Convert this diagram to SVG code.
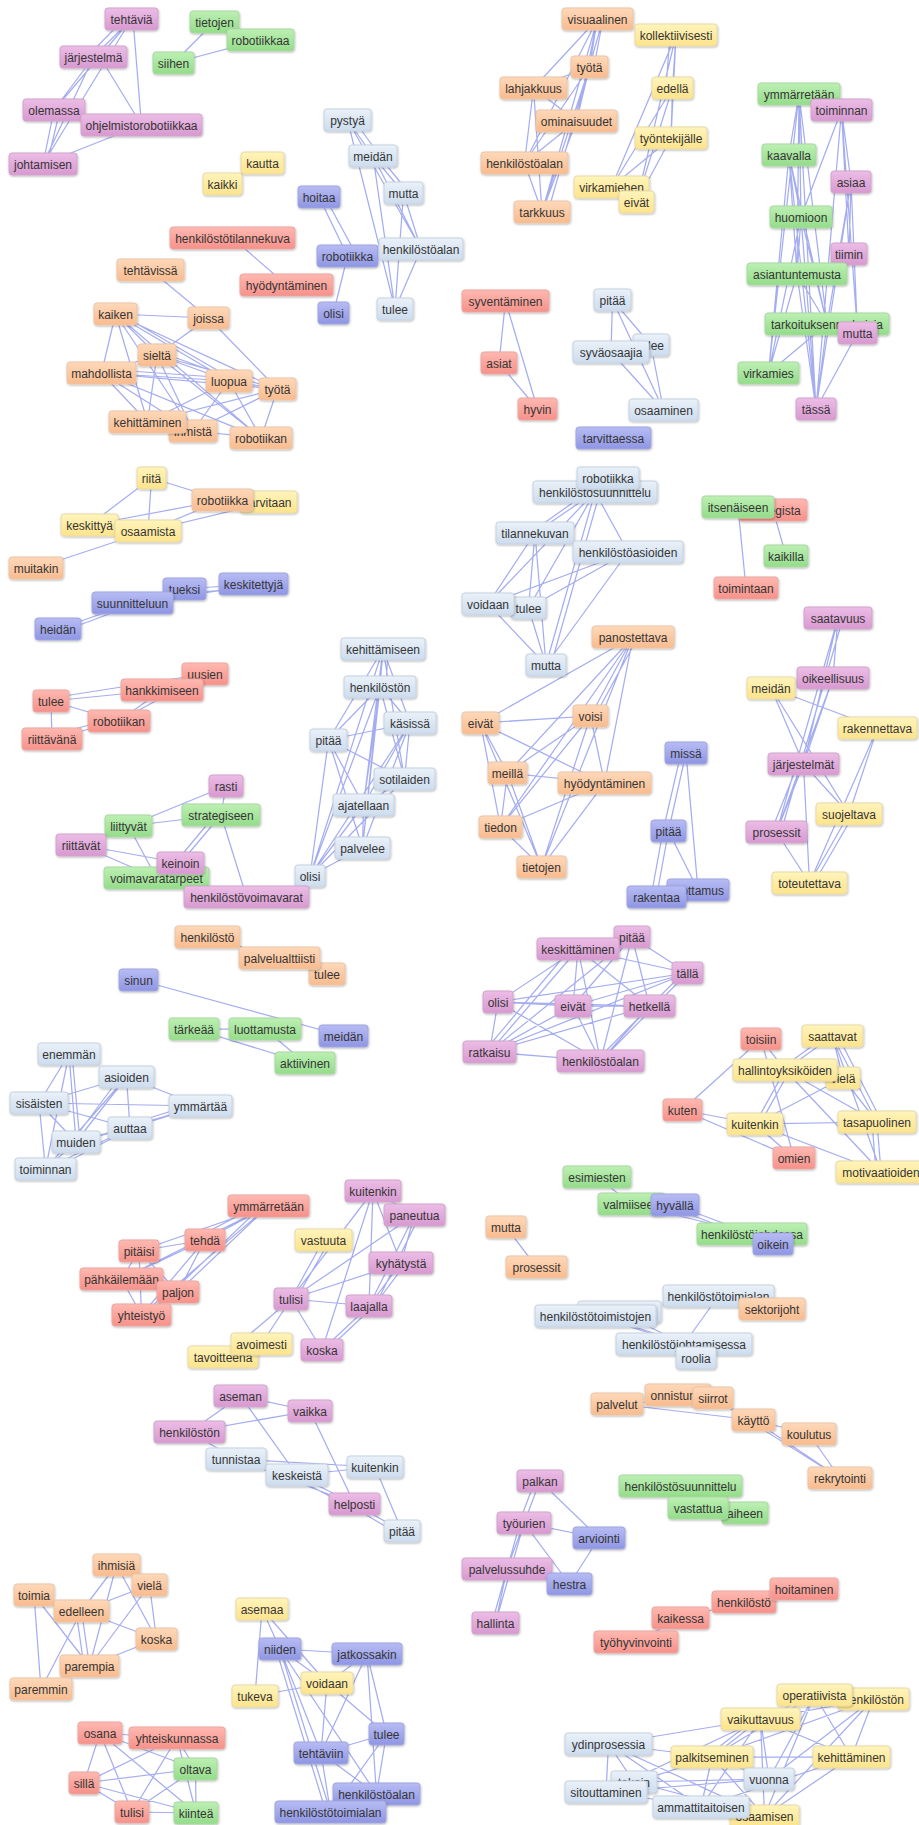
<svg xmlns="http://www.w3.org/2000/svg" width="919" height="1825" viewBox="0 0 919 1825">
<defs>
<linearGradient id="gpk" x1="0" y1="0" x2="0" y2="1"><stop offset="0" stop-color="#ecbde6"/><stop offset="1" stop-color="#d899d0"/></linearGradient>
<linearGradient id="ggr" x1="0" y1="0" x2="0" y2="1"><stop offset="0" stop-color="#bdf0b4"/><stop offset="1" stop-color="#94dc8a"/></linearGradient>
<linearGradient id="gor" x1="0" y1="0" x2="0" y2="1"><stop offset="0" stop-color="#fed9ba"/><stop offset="1" stop-color="#f9bb8e"/></linearGradient>
<linearGradient id="gye" x1="0" y1="0" x2="0" y2="1"><stop offset="0" stop-color="#fff4bc"/><stop offset="1" stop-color="#fde48c"/></linearGradient>
<linearGradient id="grd" x1="0" y1="0" x2="0" y2="1"><stop offset="0" stop-color="#feb9b1"/><stop offset="1" stop-color="#f6918a"/></linearGradient>
<linearGradient id="glb" x1="0" y1="0" x2="0" y2="1"><stop offset="0" stop-color="#eaf1f9"/><stop offset="1" stop-color="#cddcee"/></linearGradient>
<linearGradient id="gbl" x1="0" y1="0" x2="0" y2="1"><stop offset="0" stop-color="#b7bcf4"/><stop offset="1" stop-color="#8f96e3"/></linearGradient>
<filter id="sh" x="-10%" y="-20%" width="120%" height="150%"><feDropShadow dx="0.6" dy="1" stdDeviation="0.9" flood-color="#000" flood-opacity="0.28"/></filter>
</defs>
<style>
.edge{fill:none;stroke:#9ba4ef;stroke-width:1.25;stroke-opacity:.9}
.node rect{rx:3px;ry:3px;stroke-width:1;filter:url(#sh)}
.node text{font-family:"Liberation Sans",Arial,sans-serif;font-size:12px;fill:#353535;text-anchor:middle}
.pk rect{fill:url(#gpk);stroke:#d0a6cb}
.gr rect{fill:url(#ggr);stroke:#a9d8a1}
.or rect{fill:url(#gor);stroke:#ebc5a6}
.ye rect{fill:url(#gye);stroke:#e8dba6}
.rd rect{fill:url(#grd);stroke:#eba7a1}
.lb rect{fill:url(#glb);stroke:#c6d2e0}
.bl rect{fill:url(#gbl);stroke:#a0a6df}
</style>
<rect width="919" height="1825" fill="#ffffff"/>
<g id="connectors">
<path class="edge" d="M131.5 19L93.5 57M124 19L87 57M131.5 19L54 110M131.5 19L43 164M133 19L141.5 125M93.5 57L54 110M93.5 57L43 164M100 57L141.5 125M54 110L43 164M60 110L47 164M141.5 125L43 164"/>
<path class="edge" d="M173.5 63L214.5 22M173.5 63L260.5 40M222.5 184L262.5 163"/>
<path class="edge" d="M347.5 120L373 156M354 120L380 156M347.5 120L395 309M347.5 120L421 249M373 156L403.5 193M379 156L409 193M373 156L421 249M373 156L395 309M403.5 193L421 249M403.5 193L395 309M421 249L395 309M319 197L347.5 256M325 197L357 256M347.5 256L333.5 313"/>
<path class="edge" d="M232.5 238L286.5 285"/>
<path class="edge" d="M150.5 270L208.5 318M115.5 314L208.5 318M115.5 314L157 355M115.5 314L101.5 373M115.5 314L147.5 422M115.5 314L229 381M120 314L229 377M115.5 314L277.5 389M115.5 314L261 438M115.5 314L193 431M208.5 318L157 355M208.5 318L277.5 389M157 355L229 381M157 351L229 377M157 355L277.5 389M157 355L261 438M157 355L147.5 422M157 355L193 431M157 355L101.5 373M101.5 373L229 381M101.5 369L229 378M101.5 373L277.5 389M101.5 373L261 438M101.5 373L147.5 422M101.5 373L193 431M229 381L147.5 422M229 381L193 431M229 381L261 438M229 381L277.5 389M277.5 389L261 438M277.5 389L147.5 422M277.5 389L193 431M193 431L261 438"/>
<path class="edge" d="M151.5 478L222.5 500M151.5 478L89.5 525M151.5 478L148 531M89.5 525L222.5 500M148 531L222.5 500M148 531L268.5 502M148 531L36 568"/>
<path class="edge" d="M184.5 589L253.5 584M184.5 593L253.5 588M132.5 603L253.5 586M132.5 603L184.5 589M132.5 603L58 629M128 607L58 633"/>
<path class="edge" d="M51 701L162 690M51 698L205 674M51 701L119 721M51 701L52 739M119 721L162 690M119 721L205 674M52 739L119 721M52 735L119 717"/>
<path class="edge" d="M383 649L380 687M388 649L386 687M383 649L410 723M383 649L328.5 740M383 649L404.5 779M383 649L363.5 805M383 649L362.5 848M383 649L310 876M380 687L410 723M380 687L328.5 740M380 687L404.5 779M380 687L363.5 805M380 687L362.5 848M380 687L310 876M328.5 740L410 723M328.5 740L404.5 779M328.5 740L363.5 805M328.5 740L362.5 848M328.5 740L310 876M410 723L363.5 805M410 723L362.5 848M410 723L310 876M410 723L404.5 779M404.5 779L363.5 805M404.5 779L310 876M363.5 805L310 876M363.5 805L362.5 848M362.5 848L310 876"/>
<path class="edge" d="M226 786L128.5 826M226 786L221 815M221 815L128.5 826M221 815L180.5 863M215 815L175 863M221 815L246.5 897M128.5 826L156.5 878M81 845L180.5 863M81 845L156.5 878M156.5 878L246.5 897"/>
<path class="edge" d="M207.5 937L279.5 958M279.5 958L327 974"/>
<path class="edge" d="M138.5 980L343.5 1036M194 1029L265 1029M194 1029L305 1063M265 1029L305 1063"/>
<path class="edge" d="M69 1054L39 1103M69 1054L76 1142M72 1054L80 1142M69 1054L45.5 1169M126.5 1077L39 1103M126.5 1077L200.5 1106M126.5 1077L130 1128M126.5 1077L76 1142M120 1077L72 1142M126.5 1077L45.5 1169M39 1103L200.5 1106M39 1103L130 1128M39 1103L76 1142M39 1103L45.5 1169M130 1128L200.5 1106M130 1124L200.5 1102M130 1128L76 1142M130 1128L45.5 1169M126 1131L50 1171M76 1142L45.5 1169M76 1142L200.5 1106"/>
<path class="edge" d="M268.5 1206L205 1240M262 1203L200 1236M268.5 1206L139 1251M268.5 1206L121.5 1279M268.5 1206L178 1292M262 1206L172 1292M268.5 1206L141.5 1315M139 1251L205 1240M139 1251L121.5 1279M139 1251L178 1292M139 1251L141.5 1315M205 1240L121.5 1279M205 1240L178 1292M205 1240L141.5 1315M121.5 1279L141.5 1315M121.5 1279L178 1292M178 1292L141.5 1315"/>
<path class="edge" d="M373 1191L414.5 1215M373 1191L401 1263M373 1191L291 1299M373 1191L369 1306M373 1191L322 1350M414.5 1215L291 1299M414.5 1215L369 1306M420 1215L375 1306M414.5 1215L401 1263M323.5 1240L291 1299M330 1240L296 1299M401 1263L291 1299M401 1263L369 1306M406 1263L374 1306M291 1299L369 1306M291 1299L261.5 1344M291 1299L223 1357M291 1299L322 1350M369 1306L322 1350M374 1306L327 1350"/>
<path class="edge" d="M240.5 1396L310 1411M240.5 1396L189.5 1432M240.5 1396L297 1475M310 1411L189.5 1432M310 1411L354.5 1504M189.5 1432L236 1459M236 1459L375 1467M236 1459L297 1475M236 1459L354.5 1504M297 1475L375 1467M297 1475L354.5 1504M297 1479L352 1508M375 1467L402 1531M354.5 1504L402 1531M354.5 1508L400 1535"/>
<path class="edge" d="M116.5 1565L81.5 1611M116.5 1565L89.5 1666M116.5 1565L156.5 1639M149.5 1585L81.5 1611M149.5 1585L89.5 1666M149.5 1585L156.5 1639M34 1595L89.5 1666M34 1595L41 1689M34 1595L81.5 1611M81.5 1611L156.5 1639M81.5 1611L89.5 1666M76 1611L84 1666M81.5 1611L41 1689M89.5 1666L156.5 1639"/>
<path class="edge" d="M262 1609L280 1649M262 1609L327 1683M262 1609L255 1696M280 1649L367 1654M280 1649L327 1683M280 1649L321 1753M280 1649L376.5 1794M280 1649L330.5 1812M276 1649L326 1812M367 1654L321 1753M367 1654L386.5 1734M367 1654L376.5 1794M367 1654L327 1683M327 1683L386.5 1734M327 1683L255 1696M327 1683L321 1753M386.5 1734L321 1753M386.5 1734L376.5 1794M386.5 1734L330.5 1812M321 1753L376.5 1794M321 1753L330.5 1812M376.5 1794L330.5 1812"/>
<path class="edge" d="M100 1733L177 1738M100 1733L84 1783M100 1733L132 1812M100 1733L196 1813M100 1733L195.5 1769M177 1738L84 1783M177 1738L132 1812M177 1738L195.5 1769M177 1738L196 1813M84 1783L195.5 1769M84 1783L132 1812M84 1783L196 1813M195.5 1769L132 1812M195.5 1769L196 1813M132 1812L196 1813"/>
<path class="edge" d="M597.5 19L533.5 88M597.5 19L589.5 67M603 19L594 67M597.5 19L576.5 121M597.5 19L524.5 163M597.5 19L542 212M603 19L548 212M533.5 88L589.5 67M533.5 88L576.5 121M533.5 88L524.5 163M533.5 88L542 212M589.5 67L524.5 163M589.5 67L542 212M589.5 67L576.5 121M576.5 121L524.5 163M576.5 121L542 212M524.5 163L542 212M676 35L672.5 88M670 35L666 88M676 35L671 138M676 35L611.5 187M676 35L636.5 202M672.5 88L671 138M672.5 88L611.5 187M672.5 88L636.5 202M671 138L611.5 187M671 138L636.5 202"/>
<path class="edge" d="M799 94L789 155M799 94L801 217M799 94L797 274M799 94L827 324M799 94L768.5 373M799 94L816 409M841.5 110L851 182M841.5 110L849 254M841.5 110L801 217M841.5 110L816 409M841.5 110L857.5 333M789 155L801 217M789 155L797 274M789 155L827 324M789 155L768.5 373M789 155L816 409M851 182L849 254M851 182L816 409M851 182L857.5 333M851 182L827 324M801 217L797 274M801 217L827 324M801 217L816 409M801 217L768.5 373M797 274L827 324M797 274L768.5 373M797 274L816 409M827 324L768.5 373M827 324L816 409M857.5 333L816 409"/>
<path class="edge" d="M505.5 301L499 363M505.5 301L537.5 409M499 363L537.5 409"/>
<path class="edge" d="M612.5 300L611 352M612.5 300L651 345M612.5 300L663.5 410M611 352L663.5 410M651 345L663.5 410M611 352L651 345"/>
<path class="edge" d="M595 492L535 533M588 492L530 533M595 492L488 604M595 492L528.5 608M595 492L546 665M600 492L551 665M595 492L628 552M535 533L488 604M535 533L528.5 608M535 533L546 665M628 552L488 604M628 552L528.5 608M628 552L546 665M488 604L546 665M528.5 608L546 665"/>
<path class="edge" d="M773 510L786 556M738 507L746 588"/>
<path class="edge" d="M633 637L480.5 723M633 637L590.5 716M638 637L595 716M633 637L507.5 773M633 637L604.5 783M633 637L500.5 827M633 637L541.5 867M480.5 723L590.5 716M480.5 723L507.5 773M480.5 723L604.5 783M480.5 723L500.5 827M480.5 723L541.5 867M590.5 716L507.5 773M590.5 716L604.5 783M590.5 716L500.5 827M590.5 716L541.5 867M507.5 773L604.5 783M507.5 773L500.5 827M507.5 773L541.5 867M604.5 783L500.5 827M604.5 783L541.5 867M500.5 827L541.5 867"/>
<path class="edge" d="M686 753L668.5 831M681 753L663 831M686 753L698 890M668.5 831L656.5 897M663 831L651 897M668.5 831L698 890"/>
<path class="edge" d="M838 618L833 678M838 618L803.5 764M838 618L776.5 832M843 618L781 832M833 678L803.5 764M833 678L776.5 832M771 688L877.5 728M771 688L803.5 764M771 688L849 814M877.5 728L849 814M877.5 728L809.5 883M803.5 764L849 814M803.5 764L776.5 832M798 764L771 832M803.5 764L809.5 883M849 814L809.5 883M854 814L814 883M776.5 832L809.5 883"/>
<path class="edge" d="M632 937L687.5 973M632 937L573 1006M632 937L649.5 1006M632 937L600.5 1061M632 937L489.5 1052M578 949L687.5 973M578 949L498 1002M578 949L573 1006M578 949L649.5 1006M578 949L489.5 1052M578 949L600.5 1061M570 949L484 1052M687.5 973L498 1002M687.5 973L573 1006M687.5 973L489.5 1052M687.5 973L600.5 1061M683 973L596 1061M498 1002L573 1006M498 1002L649.5 1006M498 1002L489.5 1052M498 1002L600.5 1061M573 1006L649.5 1006M573 1006L489.5 1052M573 1006L600.5 1061M649.5 1006L489.5 1052M649.5 1006L600.5 1061M489.5 1052L600.5 1061"/>
<path class="edge" d="M761 1039L785 1070M761 1039L682.5 1110M761 1039L794 1158M832.5 1036L785 1070M826 1036L779 1070M832.5 1036L843 1078M832.5 1036L877 1122M838 1036L882 1122M832.5 1036L881 1172M785 1070L755 1124M790 1070L760 1124M785 1070L877 1122M785 1070L881 1172M843 1078L755 1124M843 1078L877 1122M682.5 1110L755 1124M682.5 1110L794 1158M755 1124L877 1122M755 1124L881 1172M755 1124L794 1158M877 1122L881 1172M872 1122L876 1172"/>
<path class="edge" d="M597 1177L631.5 1204M675 1205L752 1234M675 1209L752 1238M631.5 1204L752 1234"/>
<path class="edge" d="M506 1227L536.5 1267"/>
<path class="edge" d="M718.5 1296L684 1344M595.5 1316L684 1344M600 1316L688 1344M619.5 1312L684 1344"/>
<path class="edge" d="M617 1404L753.5 1420M617 1404L713 1398M713 1398L753.5 1420M713 1398L840 1478M753.5 1420L809 1434M809 1434L840 1478M753.5 1420L840 1478"/>
<path class="edge" d="M540 1481L524 1523M535 1481L519 1523M540 1481L599 1538M524 1523L599 1538M524 1523L569.5 1584M524 1523L507 1569M524 1523L495.5 1623M520 1523L492 1623M599 1538L569.5 1584M507 1569L495.5 1623"/>
<path class="edge" d="M680.5 1486L698 1508M698 1508L745 1513"/>
<path class="edge" d="M680.5 1618L744 1602M680.5 1618L636 1642M676 1620L632 1644M744 1602L804 1589"/>
<path class="edge" d="M608.5 1744L760.5 1719M608.5 1744L712 1757M608.5 1744L634 1782M608.5 1744L606 1792M608.5 1744L701 1807M608.5 1744L764.5 1816M814.5 1695L760.5 1719M814.5 1695L851.5 1757M814.5 1695L712 1757M814.5 1695L764.5 1816M814.5 1695L769 1779M873.5 1699L760.5 1719M873.5 1699L851.5 1757M873.5 1699L712 1757M873.5 1699L769 1779M873.5 1699L764.5 1816M760.5 1719L712 1757M755 1719L706 1757M760.5 1719L851.5 1757M760.5 1719L769 1779M760.5 1719L701 1807M760.5 1719L764.5 1816M760.5 1719L606 1792M712 1757L851.5 1757M712 1757L769 1779M712 1757L606 1792M712 1757L701 1807M712 1757L764.5 1816M851.5 1757L764.5 1816M851.5 1757L701 1807M769 1779L606 1792M769 1779L634 1782M606 1792L764.5 1816M634 1782L764.5 1816M701 1807L764.5 1816"/>
</g>
<g id="nodes">
<g id="n1" class="node pk"><rect x="105" y="8" width="53" height="22"/><text x="131.5" y="23.5">tehtäviä</text></g>
<g id="n2" class="node pk"><rect x="60" y="46" width="67" height="22"/><text x="93.5" y="61.5">järjestelmä</text></g>
<g id="n3" class="node pk"><rect x="23" y="99" width="62" height="22"/><text x="54" y="114.5">olemassa</text></g>
<g id="n4" class="node pk"><rect x="81" y="114" width="121" height="22"/><text x="141.5" y="129.5">ohjelmistorobotiikkaa</text></g>
<g id="n5" class="node pk"><rect x="9" y="153" width="68" height="22"/><text x="43" y="168.5">johtamisen</text></g>
<g id="n6" class="node gr"><rect x="190" y="11" width="49" height="22"/><text x="214.5" y="26.5">tietojen</text></g>
<g id="n7" class="node gr"><rect x="227" y="29" width="67" height="22"/><text x="260.5" y="44.5">robotiikkaa</text></g>
<g id="n8" class="node gr"><rect x="153" y="52" width="41" height="22"/><text x="173.5" y="67.5">siihen</text></g>
<g id="n9" class="node ye"><rect x="241" y="152" width="43" height="22"/><text x="262.5" y="167.5">kautta</text></g>
<g id="n10" class="node ye"><rect x="203" y="173" width="39" height="22"/><text x="222.5" y="188.5">kaikki</text></g>
<g id="n11" class="node lb"><rect x="324" y="109" width="47" height="22"/><text x="347.5" y="124.5">pystyä</text></g>
<g id="n12" class="node lb"><rect x="349" y="145" width="48" height="22"/><text x="373" y="160.5">meidän</text></g>
<g id="n13" class="node lb"><rect x="384" y="182" width="39" height="22"/><text x="403.5" y="197.5">mutta</text></g>
<g id="n14" class="node bl"><rect x="298" y="186" width="42" height="22"/><text x="319" y="201.5">hoitaa</text></g>
<g id="n15" class="node bl"><rect x="317" y="245" width="61" height="22"/><text x="347.5" y="260.5">robotiikka</text></g>
<g id="n16" class="node lb"><rect x="379" y="238" width="84" height="22"/><text x="421" y="253.5">henkilöstöalan</text></g>
<g id="n17" class="node bl"><rect x="318" y="302" width="31" height="22"/><text x="333.5" y="317.5">olisi</text></g>
<g id="n18" class="node lb"><rect x="377" y="298" width="36" height="22"/><text x="395" y="313.5">tulee</text></g>
<g id="n19" class="node rd"><rect x="170" y="227" width="125" height="22"/><text x="232.5" y="242.5">henkilöstötilannekuva</text></g>
<g id="n20" class="node rd"><rect x="240" y="274" width="93" height="22"/><text x="286.5" y="289.5">hyödyntäminen</text></g>
<g id="n21" class="node or"><rect x="117" y="259" width="67" height="22"/><text x="150.5" y="274.5">tehtävissä</text></g>
<g id="n22" class="node or"><rect x="94" y="303" width="43" height="22"/><text x="115.5" y="318.5">kaiken</text></g>
<g id="n23" class="node or"><rect x="188" y="307" width="41" height="22"/><text x="208.5" y="322.5">joissa</text></g>
<g id="n24" class="node or"><rect x="138" y="344" width="38" height="22"/><text x="157" y="359.5">sieltä</text></g>
<g id="n25" class="node or"><rect x="67" y="362" width="69" height="22"/><text x="101.5" y="377.5">mahdollista</text></g>
<g id="n26" class="node or"><rect x="206" y="370" width="46" height="22"/><text x="229" y="385.5">luopua</text></g>
<g id="n27" class="node or"><rect x="259" y="378" width="37" height="22"/><text x="277.5" y="393.5">työtä</text></g>
<g id="n28" class="node or"><rect x="169" y="420" width="48" height="22"/><text x="193" y="435.5">ihmistä</text></g>
<g id="n29" class="node or"><rect x="109" y="411" width="77" height="22"/><text x="147.5" y="426.5">kehittäminen</text></g>
<g id="n30" class="node or"><rect x="230" y="427" width="62" height="22"/><text x="261" y="442.5">robotiikan</text></g>
<g id="n31" class="node ye"><rect x="137" y="467" width="29" height="22"/><text x="151.5" y="482.5">riitä</text></g>
<g id="n32" class="node ye"><rect x="240" y="491" width="57" height="22"/><text x="268.5" y="506.5">tarvitaan</text></g>
<g id="n33" class="node or"><rect x="192" y="489" width="61" height="22"/><text x="222.5" y="504.5">robotiikka</text></g>
<g id="n34" class="node ye"><rect x="61" y="514" width="57" height="22"/><text x="89.5" y="529.5">keskittyä</text></g>
<g id="n35" class="node ye"><rect x="115" y="520" width="66" height="22"/><text x="148" y="535.5">osaamista</text></g>
<g id="n36" class="node or"><rect x="9" y="557" width="54" height="22"/><text x="36" y="572.5">muitakin</text></g>
<g id="n37" class="node bl"><rect x="163" y="578" width="43" height="22"/><text x="184.5" y="593.5">tueksi</text></g>
<g id="n38" class="node bl"><rect x="219" y="573" width="69" height="22"/><text x="253.5" y="588.5">keskitettyjä</text></g>
<g id="n39" class="node bl"><rect x="92" y="592" width="81" height="22"/><text x="132.5" y="607.5">suunnitteluun</text></g>
<g id="n40" class="node bl"><rect x="35" y="618" width="46" height="22"/><text x="58" y="633.5">heidän</text></g>
<g id="n41" class="node rd"><rect x="182" y="663" width="46" height="22"/><text x="205" y="678.5">uusien</text></g>
<g id="n42" class="node rd"><rect x="121" y="679" width="82" height="22"/><text x="162" y="694.5">hankkimiseen</text></g>
<g id="n43" class="node rd"><rect x="33" y="690" width="36" height="22"/><text x="51" y="705.5">tulee</text></g>
<g id="n44" class="node rd"><rect x="88" y="710" width="62" height="22"/><text x="119" y="725.5">robotiikan</text></g>
<g id="n45" class="node rd"><rect x="22" y="728" width="60" height="22"/><text x="52" y="743.5">riittävänä</text></g>
<g id="n46" class="node lb"><rect x="341" y="638" width="84" height="22"/><text x="383" y="653.5">kehittämiseen</text></g>
<g id="n47" class="node lb"><rect x="344" y="676" width="72" height="22"/><text x="380" y="691.5">henkilöstön</text></g>
<g id="n48" class="node lb"><rect x="384" y="712" width="52" height="22"/><text x="410" y="727.5">käsissä</text></g>
<g id="n49" class="node lb"><rect x="310" y="729" width="37" height="22"/><text x="328.5" y="744.5">pitää</text></g>
<g id="n50" class="node lb"><rect x="374" y="768" width="61" height="22"/><text x="404.5" y="783.5">sotilaiden</text></g>
<g id="n51" class="node lb"><rect x="333" y="794" width="61" height="22"/><text x="363.5" y="809.5">ajatellaan</text></g>
<g id="n52" class="node lb"><rect x="335" y="837" width="55" height="22"/><text x="362.5" y="852.5">palvelee</text></g>
<g id="n53" class="node lb"><rect x="295" y="865" width="30" height="22"/><text x="310" y="880.5">olisi</text></g>
<g id="n54" class="node pk"><rect x="209" y="775" width="34" height="22"/><text x="226" y="790.5">rasti</text></g>
<g id="n55" class="node gr"><rect x="182" y="804" width="78" height="22"/><text x="221" y="819.5">strategiseen</text></g>
<g id="n56" class="node gr"><rect x="105" y="815" width="47" height="22"/><text x="128.5" y="830.5">liittyvät</text></g>
<g id="n57" class="node pk"><rect x="56" y="834" width="50" height="22"/><text x="81" y="849.5">riittävät</text></g>
<g id="n58" class="node gr"><rect x="104" y="867" width="105" height="22"/><text x="156.5" y="882.5">voimavaratarpeet</text></g>
<g id="n59" class="node pk"><rect x="157" y="852" width="47" height="22"/><text x="180.5" y="867.5">keinoin</text></g>
<g id="n60" class="node pk"><rect x="184" y="886" width="125" height="22"/><text x="246.5" y="901.5">henkilöstövoimavarat</text></g>
<g id="n61" class="node or"><rect x="175" y="926" width="65" height="22"/><text x="207.5" y="941.5">henkilöstö</text></g>
<g id="n63" class="node or"><rect x="309" y="963" width="36" height="22"/><text x="327" y="978.5">tulee</text></g>
<g id="n62" class="node or"><rect x="239" y="947" width="81" height="22"/><text x="279.5" y="962.5">palvelualttiisti</text></g>
<g id="n64" class="node bl"><rect x="119" y="969" width="39" height="22"/><text x="138.5" y="984.5">sinun</text></g>
<g id="n65" class="node gr"><rect x="169" y="1018" width="50" height="22"/><text x="194" y="1033.5">tärkeää</text></g>
<g id="n66" class="node gr"><rect x="229" y="1018" width="72" height="22"/><text x="265" y="1033.5">luottamusta</text></g>
<g id="n67" class="node bl"><rect x="319" y="1025" width="49" height="22"/><text x="343.5" y="1040.5">meidän</text></g>
<g id="n68" class="node gr"><rect x="275" y="1052" width="60" height="22"/><text x="305" y="1067.5">aktiivinen</text></g>
<g id="n69" class="node lb"><rect x="38" y="1043" width="62" height="22"/><text x="69" y="1058.5">enemmän</text></g>
<g id="n70" class="node lb"><rect x="99" y="1066" width="55" height="22"/><text x="126.5" y="1081.5">asioiden</text></g>
<g id="n71" class="node lb"><rect x="10" y="1092" width="58" height="22"/><text x="39" y="1107.5">sisäisten</text></g>
<g id="n72" class="node lb"><rect x="169" y="1095" width="63" height="22"/><text x="200.5" y="1110.5">ymmärtää</text></g>
<g id="n73" class="node lb"><rect x="108" y="1117" width="44" height="22"/><text x="130" y="1132.5">auttaa</text></g>
<g id="n74" class="node lb"><rect x="52" y="1131" width="48" height="22"/><text x="76" y="1146.5">muiden</text></g>
<g id="n75" class="node lb"><rect x="15" y="1158" width="61" height="22"/><text x="45.5" y="1173.5">toiminnan</text></g>
<g id="n76" class="node pk"><rect x="345" y="1180" width="56" height="22"/><text x="373" y="1195.5">kuitenkin</text></g>
<g id="n77" class="node rd"><rect x="228" y="1195" width="81" height="22"/><text x="268.5" y="1210.5">ymmärretään</text></g>
<g id="n78" class="node pk"><rect x="384" y="1204" width="61" height="22"/><text x="414.5" y="1219.5">paneutua</text></g>
<g id="n79" class="node rd"><rect x="185" y="1229" width="40" height="22"/><text x="205" y="1244.5">tehdä</text></g>
<g id="n80" class="node rd"><rect x="119" y="1240" width="40" height="22"/><text x="139" y="1255.5">pitäisi</text></g>
<g id="n81" class="node ye"><rect x="295" y="1229" width="57" height="22"/><text x="323.5" y="1244.5">vastuuta</text></g>
<g id="n82" class="node pk"><rect x="369" y="1252" width="64" height="22"/><text x="401" y="1267.5">kyhätystä</text></g>
<g id="n83" class="node rd"><rect x="80" y="1268" width="83" height="22"/><text x="121.5" y="1283.5">pähkäilemään</text></g>
<g id="n84" class="node rd"><rect x="157" y="1281" width="42" height="22"/><text x="178" y="1296.5">paljon</text></g>
<g id="n85" class="node pk"><rect x="274" y="1288" width="34" height="22"/><text x="291" y="1303.5">tulisi</text></g>
<g id="n86" class="node pk"><rect x="346" y="1295" width="46" height="22"/><text x="369" y="1310.5">laajalla</text></g>
<g id="n87" class="node rd"><rect x="112" y="1304" width="59" height="22"/><text x="141.5" y="1319.5">yhteistyö</text></g>
<g id="n88" class="node ye"><rect x="188" y="1346" width="70" height="22"/><text x="223" y="1361.5">tavoitteena</text></g>
<g id="n89" class="node ye"><rect x="231" y="1333" width="61" height="22"/><text x="261.5" y="1348.5">avoimesti</text></g>
<g id="n90" class="node pk"><rect x="301" y="1339" width="42" height="22"/><text x="322" y="1354.5">koska</text></g>
<g id="n91" class="node pk"><rect x="214" y="1385" width="53" height="22"/><text x="240.5" y="1400.5">aseman</text></g>
<g id="n92" class="node pk"><rect x="288" y="1400" width="44" height="22"/><text x="310" y="1415.5">vaikka</text></g>
<g id="n93" class="node pk"><rect x="154" y="1421" width="71" height="22"/><text x="189.5" y="1436.5">henkilöstön</text></g>
<g id="n94" class="node lb"><rect x="206" y="1448" width="60" height="22"/><text x="236" y="1463.5">tunnistaa</text></g>
<g id="n95" class="node lb"><rect x="347" y="1456" width="56" height="22"/><text x="375" y="1471.5">kuitenkin</text></g>
<g id="n96" class="node lb"><rect x="266" y="1464" width="62" height="22"/><text x="297" y="1479.5">keskeistä</text></g>
<g id="n97" class="node pk"><rect x="329" y="1493" width="51" height="22"/><text x="354.5" y="1508.5">helposti</text></g>
<g id="n98" class="node lb"><rect x="384" y="1520" width="36" height="22"/><text x="402" y="1535.5">pitää</text></g>
<g id="n99" class="node or"><rect x="93" y="1554" width="47" height="22"/><text x="116.5" y="1569.5">ihmisiä</text></g>
<g id="n100" class="node or"><rect x="132" y="1574" width="35" height="22"/><text x="149.5" y="1589.5">vielä</text></g>
<g id="n101" class="node or"><rect x="14" y="1584" width="40" height="22"/><text x="34" y="1599.5">toimia</text></g>
<g id="n102" class="node or"><rect x="54" y="1600" width="55" height="22"/><text x="81.5" y="1615.5">edelleen</text></g>
<g id="n103" class="node or"><rect x="136" y="1628" width="41" height="22"/><text x="156.5" y="1643.5">koska</text></g>
<g id="n104" class="node or"><rect x="60" y="1655" width="59" height="22"/><text x="89.5" y="1670.5">parempia</text></g>
<g id="n105" class="node or"><rect x="10" y="1678" width="62" height="22"/><text x="41" y="1693.5">paremmin</text></g>
<g id="n106" class="node rd"><rect x="78" y="1722" width="44" height="22"/><text x="100" y="1737.5">osana</text></g>
<g id="n107" class="node rd"><rect x="129" y="1727" width="96" height="22"/><text x="177" y="1742.5">yhteiskunnassa</text></g>
<g id="n108" class="node gr"><rect x="174" y="1758" width="43" height="22"/><text x="195.5" y="1773.5">oltava</text></g>
<g id="n109" class="node rd"><rect x="69" y="1772" width="30" height="22"/><text x="84" y="1787.5">sillä</text></g>
<g id="n110" class="node rd"><rect x="115" y="1801" width="34" height="22"/><text x="132" y="1816.5">tulisi</text></g>
<g id="n111" class="node gr"><rect x="174" y="1802" width="44" height="22"/><text x="196" y="1817.5">kiinteä</text></g>
<g id="n112" class="node ye"><rect x="236" y="1598" width="52" height="22"/><text x="262" y="1613.5">asemaa</text></g>
<g id="n113" class="node bl"><rect x="259" y="1638" width="42" height="22"/><text x="280" y="1653.5">niiden</text></g>
<g id="n114" class="node bl"><rect x="332" y="1643" width="70" height="22"/><text x="367" y="1658.5">jatkossakin</text></g>
<g id="n115" class="node ye"><rect x="301" y="1672" width="52" height="22"/><text x="327" y="1687.5">voidaan</text></g>
<g id="n116" class="node ye"><rect x="232" y="1685" width="46" height="22"/><text x="255" y="1700.5">tukeva</text></g>
<g id="n117" class="node bl"><rect x="369" y="1723" width="35" height="22"/><text x="386.5" y="1738.5">tulee</text></g>
<g id="n118" class="node bl"><rect x="294" y="1742" width="54" height="22"/><text x="321" y="1757.5">tehtäviin</text></g>
<g id="n119" class="node bl"><rect x="333" y="1783" width="87" height="22"/><text x="376.5" y="1798.5">henkilöstöalan</text></g>
<g id="n120" class="node bl"><rect x="275" y="1801" width="111" height="22"/><text x="330.5" y="1816.5">henkilöstötoimialan</text></g>
<g id="n121" class="node or"><rect x="562" y="8" width="71" height="22"/><text x="597.5" y="23.5">visuaalinen</text></g>
<g id="n122" class="node ye"><rect x="635" y="24" width="82" height="22"/><text x="676" y="39.5">kollektiivisesti</text></g>
<g id="n123" class="node or"><rect x="571" y="56" width="37" height="22"/><text x="589.5" y="71.5">työtä</text></g>
<g id="n124" class="node or"><rect x="500" y="77" width="67" height="22"/><text x="533.5" y="92.5">lahjakkuus</text></g>
<g id="n125" class="node ye"><rect x="652" y="77" width="41" height="22"/><text x="672.5" y="92.5">edellä</text></g>
<g id="n126" class="node or"><rect x="536" y="110" width="81" height="22"/><text x="576.5" y="125.5">ominaisuudet</text></g>
<g id="n127" class="node ye"><rect x="635" y="127" width="72" height="22"/><text x="671" y="142.5">työntekijälle</text></g>
<g id="n128" class="node or"><rect x="481" y="152" width="87" height="22"/><text x="524.5" y="167.5">henkilöstöalan</text></g>
<g id="n129" class="node ye"><rect x="574" y="176" width="75" height="22"/><text x="611.5" y="191.5">virkamiehen</text></g>
<g id="n130" class="node ye"><rect x="619" y="191" width="35" height="22"/><text x="636.5" y="206.5">eivät</text></g>
<g id="n131" class="node or"><rect x="514" y="201" width="56" height="22"/><text x="542" y="216.5">tarkkuus</text></g>
<g id="n132" class="node gr"><rect x="758" y="83" width="82" height="22"/><text x="799" y="98.5">ymmärretään</text></g>
<g id="n133" class="node pk"><rect x="811" y="99" width="61" height="22"/><text x="841.5" y="114.5">toiminnan</text></g>
<g id="n134" class="node gr"><rect x="762" y="144" width="54" height="22"/><text x="789" y="159.5">kaavalla</text></g>
<g id="n135" class="node pk"><rect x="831" y="171" width="40" height="22"/><text x="851" y="186.5">asiaa</text></g>
<g id="n136" class="node gr"><rect x="770" y="206" width="62" height="22"/><text x="801" y="221.5">huomioon</text></g>
<g id="n137" class="node pk"><rect x="831" y="243" width="36" height="22"/><text x="849" y="258.5">tiimin</text></g>
<g id="n138" class="node gr"><rect x="747" y="263" width="100" height="22"/><text x="797" y="278.5">asiantuntemusta</text></g>
<g id="n139" class="node gr"><rect x="765" y="313" width="124" height="22"/><text x="827" y="328.5">tarkoituksenmukaisia</text></g>
<g id="n140" class="node pk"><rect x="838" y="322" width="39" height="22"/><text x="857.5" y="337.5">mutta</text></g>
<g id="n141" class="node gr"><rect x="738" y="362" width="61" height="22"/><text x="768.5" y="377.5">virkamies</text></g>
<g id="n142" class="node pk"><rect x="796" y="398" width="40" height="22"/><text x="816" y="413.5">tässä</text></g>
<g id="n143" class="node rd"><rect x="462" y="290" width="87" height="22"/><text x="505.5" y="305.5">syventäminen</text></g>
<g id="n144" class="node rd"><rect x="481" y="352" width="36" height="22"/><text x="499" y="367.5">asiat</text></g>
<g id="n145" class="node rd"><rect x="518" y="398" width="39" height="22"/><text x="537.5" y="413.5">hyvin</text></g>
<g id="n146" class="node lb"><rect x="594" y="289" width="37" height="22"/><text x="612.5" y="304.5">pitää</text></g>
<g id="n147" class="node lb"><rect x="633" y="334" width="36" height="22"/><text x="651" y="349.5">tulee</text></g>
<g id="n148" class="node lb"><rect x="573" y="341" width="76" height="22"/><text x="611" y="356.5">syväosaajia</text></g>
<g id="n149" class="node lb"><rect x="629" y="399" width="69" height="22"/><text x="663.5" y="414.5">osaaminen</text></g>
<g id="n150" class="node bl"><rect x="576" y="427" width="75" height="22"/><text x="613.5" y="442.5">tarvittaessa</text></g>
<g id="n152" class="node lb"><rect x="533" y="481" width="124" height="22"/><text x="595" y="496.5">henkilöstösuunnittelu</text></g>
<g id="n151" class="node lb"><rect x="577" y="467" width="62" height="22"/><text x="608" y="482.5">robotiikka</text></g>
<g id="n153" class="node lb"><rect x="496" y="522" width="78" height="22"/><text x="535" y="537.5">tilannekuvan</text></g>
<g id="n154" class="node lb"><rect x="573" y="541" width="110" height="22"/><text x="628" y="556.5">henkilöstöasioiden</text></g>
<g id="n155" class="node rd"><rect x="739" y="499" width="68" height="22"/><text x="773" y="514.5">strategista</text></g>
<g id="n156" class="node gr"><rect x="702" y="496" width="72" height="22"/><text x="738" y="511.5">itsenäiseen</text></g>
<g id="n157" class="node gr"><rect x="764" y="545" width="44" height="22"/><text x="786" y="560.5">kaikilla</text></g>
<g id="n158" class="node rd"><rect x="714" y="577" width="64" height="22"/><text x="746" y="592.5">toimintaan</text></g>
<g id="n159" class="node lb"><rect x="511" y="597" width="35" height="22"/><text x="528.5" y="612.5">tulee</text></g>
<g id="n160" class="node lb"><rect x="462" y="593" width="52" height="22"/><text x="488" y="608.5">voidaan</text></g>
<g id="n161" class="node lb"><rect x="526" y="654" width="40" height="22"/><text x="546" y="669.5">mutta</text></g>
<g id="n162" class="node or"><rect x="592" y="626" width="82" height="22"/><text x="633" y="641.5">panostettava</text></g>
<g id="n163" class="node or"><rect x="462" y="712" width="37" height="22"/><text x="480.5" y="727.5">eivät</text></g>
<g id="n164" class="node or"><rect x="573" y="705" width="35" height="22"/><text x="590.5" y="720.5">voisi</text></g>
<g id="n165" class="node or"><rect x="488" y="762" width="39" height="22"/><text x="507.5" y="777.5">meillä</text></g>
<g id="n166" class="node or"><rect x="558" y="772" width="93" height="22"/><text x="604.5" y="787.5">hyödyntäminen</text></g>
<g id="n167" class="node or"><rect x="479" y="816" width="43" height="22"/><text x="500.5" y="831.5">tiedon</text></g>
<g id="n168" class="node or"><rect x="517" y="856" width="49" height="22"/><text x="541.5" y="871.5">tietojen</text></g>
<g id="n169" class="node bl"><rect x="665" y="742" width="42" height="22"/><text x="686" y="757.5">missä</text></g>
<g id="n170" class="node bl"><rect x="651" y="820" width="35" height="22"/><text x="668.5" y="835.5">pitää</text></g>
<g id="n171" class="node bl"><rect x="667" y="879" width="62" height="22"/><text x="698" y="894.5">luottamus</text></g>
<g id="n172" class="node bl"><rect x="627" y="886" width="59" height="22"/><text x="656.5" y="901.5">rakentaa</text></g>
<g id="n173" class="node pk"><rect x="804" y="607" width="68" height="22"/><text x="838" y="622.5">saatavuus</text></g>
<g id="n174" class="node pk"><rect x="797" y="667" width="72" height="22"/><text x="833" y="682.5">oikeellisuus</text></g>
<g id="n175" class="node ye"><rect x="747" y="677" width="48" height="22"/><text x="771" y="692.5">meidän</text></g>
<g id="n176" class="node ye"><rect x="838" y="717" width="79" height="22"/><text x="877.5" y="732.5">rakennettava</text></g>
<g id="n177" class="node pk"><rect x="768" y="753" width="71" height="22"/><text x="803.5" y="768.5">järjestelmät</text></g>
<g id="n178" class="node ye"><rect x="816" y="803" width="66" height="22"/><text x="849" y="818.5">suojeltava</text></g>
<g id="n179" class="node pk"><rect x="746" y="821" width="61" height="22"/><text x="776.5" y="836.5">prosessit</text></g>
<g id="n180" class="node ye"><rect x="772" y="872" width="75" height="22"/><text x="809.5" y="887.5">toteutettava</text></g>
<g id="n181" class="node pk"><rect x="614" y="926" width="36" height="22"/><text x="632" y="941.5">pitää</text></g>
<g id="n182" class="node pk"><rect x="537" y="938" width="82" height="22"/><text x="578" y="953.5">keskittäminen</text></g>
<g id="n183" class="node pk"><rect x="672" y="962" width="31" height="22"/><text x="687.5" y="977.5">tällä</text></g>
<g id="n184" class="node pk"><rect x="483" y="991" width="30" height="22"/><text x="498" y="1006.5">olisi</text></g>
<g id="n185" class="node pk"><rect x="555" y="995" width="36" height="22"/><text x="573" y="1010.5">eivät</text></g>
<g id="n186" class="node pk"><rect x="624" y="995" width="51" height="22"/><text x="649.5" y="1010.5">hetkellä</text></g>
<g id="n187" class="node pk"><rect x="463" y="1041" width="53" height="22"/><text x="489.5" y="1056.5">ratkaisu</text></g>
<g id="n188" class="node pk"><rect x="557" y="1050" width="87" height="22"/><text x="600.5" y="1065.5">henkilöstöalan</text></g>
<g id="n189" class="node rd"><rect x="741" y="1028" width="40" height="22"/><text x="761" y="1043.5">toisiin</text></g>
<g id="n190" class="node ye"><rect x="802" y="1025" width="61" height="22"/><text x="832.5" y="1040.5">saattavat</text></g>
<g id="n191" class="node ye"><rect x="826" y="1067" width="34" height="22"/><text x="843" y="1082.5">vielä</text></g>
<g id="n192" class="node ye"><rect x="733" y="1059" width="104" height="22"/><text x="785" y="1074.5">hallintoyksiköiden</text></g>
<g id="n193" class="node rd"><rect x="663" y="1099" width="39" height="22"/><text x="682.5" y="1114.5">kuten</text></g>
<g id="n194" class="node ye"><rect x="727" y="1113" width="56" height="22"/><text x="755" y="1128.5">kuitenkin</text></g>
<g id="n195" class="node ye"><rect x="838" y="1111" width="78" height="22"/><text x="877" y="1126.5">tasapuolinen</text></g>
<g id="n196" class="node rd"><rect x="773" y="1147" width="42" height="22"/><text x="794" y="1162.5">omien</text></g>
<g id="n197" class="node ye"><rect x="836" y="1161" width="90" height="22"/><text x="881" y="1176.5">motivaatioiden</text></g>
<g id="n198" class="node gr"><rect x="563" y="1166" width="68" height="22"/><text x="597" y="1181.5">esimiesten</text></g>
<g id="n199" class="node gr"><rect x="598" y="1193" width="67" height="22"/><text x="631.5" y="1208.5">valmiiseen</text></g>
<g id="n200" class="node bl"><rect x="651" y="1194" width="48" height="22"/><text x="675" y="1209.5">hyvällä</text></g>
<g id="n201" class="node gr"><rect x="697" y="1223" width="110" height="22"/><text x="752" y="1238.5">henkilöstöjohdossa</text></g>
<g id="n202" class="node bl"><rect x="753" y="1233" width="40" height="22"/><text x="773" y="1248.5">oikein</text></g>
<g id="n203" class="node or"><rect x="486" y="1216" width="40" height="22"/><text x="506" y="1231.5">mutta</text></g>
<g id="n204" class="node or"><rect x="506" y="1256" width="61" height="22"/><text x="536.5" y="1271.5">prosessit</text></g>
<g id="n205" class="node lb"><rect x="663" y="1285" width="111" height="22"/><text x="718.5" y="1300.5">henkilöstötoimialan</text></g>
<g id="n206" class="node or"><rect x="739" y="1298" width="66" height="22"/><text x="772" y="1313.5">sektorijoht</text></g>
<g id="n207" class="node lb"><rect x="578" y="1301" width="83" height="22"/></g>
<g id="n208" class="node lb"><rect x="535" y="1305" width="121" height="22"/><text x="595.5" y="1320.5">henkilöstötoimistojen</text></g>
<g id="n209" class="node lb"><rect x="616" y="1333" width="136" height="22"/><text x="684" y="1348.5">henkilöstöjohtamisessa</text></g>
<g id="n210" class="node lb"><rect x="676" y="1347" width="40" height="22"/><text x="696" y="1362.5">roolia</text></g>
<g id="n211" class="node or"><rect x="591" y="1393" width="52" height="22"/><text x="617" y="1408.5">palvelut</text></g>
<g id="n212" class="node or"><rect x="645" y="1384" width="66" height="22"/><text x="650.5" y="1399.5" style="text-anchor:start">onnistuminen</text></g>
<g id="n213" class="node or"><rect x="693" y="1387" width="40" height="22"/><text x="713" y="1402.5">siirrot</text></g>
<g id="n214" class="node or"><rect x="732" y="1409" width="43" height="22"/><text x="753.5" y="1424.5">käyttö</text></g>
<g id="n215" class="node or"><rect x="782" y="1423" width="54" height="22"/><text x="809" y="1438.5">koulutus</text></g>
<g id="n216" class="node or"><rect x="808" y="1467" width="64" height="22"/><text x="840" y="1482.5">rekrytointi</text></g>
<g id="n217" class="node pk"><rect x="517" y="1470" width="46" height="22"/><text x="540" y="1485.5">palkan</text></g>
<g id="n218" class="node gr"><rect x="619" y="1475" width="123" height="22"/><text x="680.5" y="1490.5">henkilöstösuunnittelu</text></g>
<g id="n219" class="node gr"><rect x="722" y="1502" width="46" height="22"/><text x="745" y="1517.5">aiheen</text></g>
<g id="n220" class="node gr"><rect x="668" y="1497" width="60" height="22"/><text x="698" y="1512.5">vastattua</text></g>
<g id="n221" class="node pk"><rect x="497" y="1512" width="54" height="22"/><text x="524" y="1527.5">työurien</text></g>
<g id="n222" class="node bl"><rect x="573" y="1527" width="52" height="22"/><text x="599" y="1542.5">arviointi</text></g>
<g id="n223" class="node pk"><rect x="462" y="1558" width="90" height="22"/><text x="507" y="1573.5">palvelussuhde</text></g>
<g id="n224" class="node bl"><rect x="547" y="1573" width="45" height="22"/><text x="569.5" y="1588.5">hestra</text></g>
<g id="n225" class="node pk"><rect x="472" y="1612" width="47" height="22"/><text x="495.5" y="1627.5">hallinta</text></g>
<g id="n227" class="node rd"><rect x="712" y="1591" width="64" height="22"/><text x="744" y="1606.5">henkilöstö</text></g>
<g id="n226" class="node rd"><rect x="770" y="1578" width="68" height="22"/><text x="804" y="1593.5">hoitaminen</text></g>
<g id="n228" class="node rd"><rect x="652" y="1607" width="57" height="22"/><text x="680.5" y="1622.5">kaikessa</text></g>
<g id="n229" class="node rd"><rect x="594" y="1631" width="84" height="22"/><text x="636" y="1646.5">työhyvinvointi</text></g>
<g id="n230" class="node ye"><rect x="838" y="1688" width="71" height="22"/><text x="873.5" y="1703.5">henkilöstön</text></g>
<g id="n231" class="node ye"><rect x="777" y="1684" width="75" height="22"/><text x="814.5" y="1699.5">operatiivista</text></g>
<g id="n232" class="node ye"><rect x="721" y="1708" width="79" height="22"/><text x="760.5" y="1723.5">vaikuttavuus</text></g>
<g id="n233" class="node lb"><rect x="565" y="1733" width="87" height="22"/><text x="608.5" y="1748.5">ydinprosessia</text></g>
<g id="n234" class="node ye"><rect x="671" y="1746" width="82" height="22"/><text x="712" y="1761.5">palkitseminen</text></g>
<g id="n235" class="node ye"><rect x="813" y="1746" width="77" height="22"/><text x="851.5" y="1761.5">kehittäminen</text></g>
<g id="n236" class="node lb"><rect x="744" y="1768" width="50" height="22"/><text x="769" y="1783.5">vuonna</text></g>
<g id="n237" class="node lb"><rect x="611" y="1771" width="46" height="22"/><text x="634" y="1786.5">tekoin</text></g>
<g id="n238" class="node lb"><rect x="565" y="1781" width="82" height="22"/><text x="606" y="1796.5">sitouttaminen</text></g>
<g id="n239" class="node ye"><rect x="730" y="1805" width="69" height="22"/><text x="764.5" y="1820.5">osaamisen</text></g>
<g id="n240" class="node lb"><rect x="653" y="1796" width="96" height="22"/><text x="701" y="1811.5">ammattitaitoisen</text></g>
</g>
</svg>
